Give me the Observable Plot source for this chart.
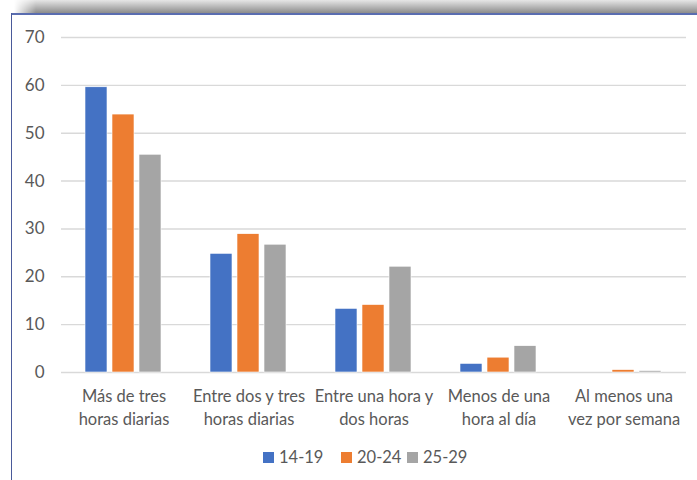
<!DOCTYPE html>
<html>
<head>
<meta charset="utf-8">
<script src="https://cdn.jsdelivr.net/npm/d3@7"></script>
<script src="https://cdn.jsdelivr.net/npm/@observablehq/plot@0.6"></script>
<style>
  html, body { margin: 0; padding: 0; background: white; overflow: hidden; }
  #wrap { position: relative; width: 697px; height: 480px; font-family: Lato, "Open Sans", sans-serif; }
  #shadow { position: absolute; left: 14px; top: 0; width: 683px; height: 13px;
    background: linear-gradient(to bottom, #e6e6e6, #8c8c8c);
    -webkit-mask-image: linear-gradient(to right, transparent 0px, black 22px);
    mask-image: linear-gradient(to right, transparent 0px, black 22px); z-index: 2; }
  #topline { position: absolute; left: 11px; top: 13px; width: 686px; height: 2px; background: #5a6db0; z-index: 2; }
  #leftline { position: absolute; left: 11px; top: 13px; width: 1px; height: 467px; background: #4a5a9a; z-index: 2; }
  #chart { position: absolute; left: 0; top: 0; }
  #legend { position: absolute; left: 0; top: 446px; width: 697px; height: 26px; font-size: 16.5px; color: #595959; }
  .sw { position: absolute; top: 6px; width: 11px; height: 11px; }
  .lt { position: absolute; top: 2px; line-height: 18px; }
</style>
</head>
<body>
<div id="wrap">
  <div id="chart"></div>
  <div id="shadow"></div>
  <div id="topline"></div>
  <div id="leftline"></div>
  <div id="legend"></div>
</div>
<script>
const categories = [
  "Más de tres horas diarias",
  "Entre dos y tres horas diarias",
  "Entre una hora y dos horas",
  "Menos de una hora al día",
  "Al menos una vez por semana"
];
const categoryLabels = [
  "Más de tres\nhoras diarias",
  "Entre dos y tres\nhoras diarias",
  "Entre una hora y\ndos horas",
  "Menos de una\nhora al día",
  "Al menos una\nvez por semana"
];
const series = ["14-19", "20-24", "25-29"];
const colors = ["#4472C4", "#ED7D31", "#A5A5A5"];
const values1419 = [59.6, 24.8, 13.3, 1.8, 0];
const values2024 = [53.9, 28.9, 14.1, 3.1, 0.5];
const values2529 = [45.5, 26.7, 22.1, 5.5, 0.3];
const yTicks = [0, 10, 20, 30, 40, 50, 60, 70];

const seriesValues = [values1419, values2024, values2529];
const data = [];
categories.forEach((c, i) => {
  series.forEach((s, j) => data.push({cat: c, series: s, value: seriesValues[j][i]}));
});

const chart = Plot.plot({
  width: 697,
  height: 440,
  marginLeft: 60,
  marginRight: 10,
  marginTop: 37,
  marginBottom: 68,
  style: {fontFamily: "Lato, 'Open Sans', sans-serif", fontSize: "16px", color: "#595959", background: "transparent"},
  fx: {domain: categories, padding: 0, label: null},
  x: {domain: series, paddingInner: 0.17, paddingOuter: 0.85, axis: null},
  y: {domain: [0, 70], label: null},
  color: {domain: series, range: colors},
  marks: [
    Plot.gridY(yTicks, {stroke: "#d9d9d9", strokeOpacity: 1, strokeWidth: 1.4}),
    Plot.axisY(yTicks, {tickSize: 0, tickPadding: 17, fontSize: 17, fill: "#595959", label: null}),
    Plot.axisFx({anchor: "bottom", tickSize: 0, tickPadding: 13, fontSize: 16.5, fill: "#595959",
      lineHeight: 1.4, label: null,
      tickFormat: d => categoryLabels[categories.indexOf(d)]}),
    Plot.barY(data, {fx: "cat", x: "series", y: "value", fill: "series", stroke: "white", strokeWidth: 0.6})
  ]
});
document.getElementById("chart").appendChild(chart);

const color = chart.scale("color");
const legend = document.getElementById("legend");
const swX = [263, 341, 407];
series.forEach((s, i) => {
  const sw = document.createElement("div");
  sw.className = "sw";
  sw.style.left = swX[i] + "px";
  sw.style.background = color.range[i];
  legend.appendChild(sw);
  const t = document.createElement("div");
  t.className = "lt";
  t.style.left = (swX[i] + 16) + "px";
  t.textContent = s;
  legend.appendChild(t);
});
</script>
</body>
</html>
